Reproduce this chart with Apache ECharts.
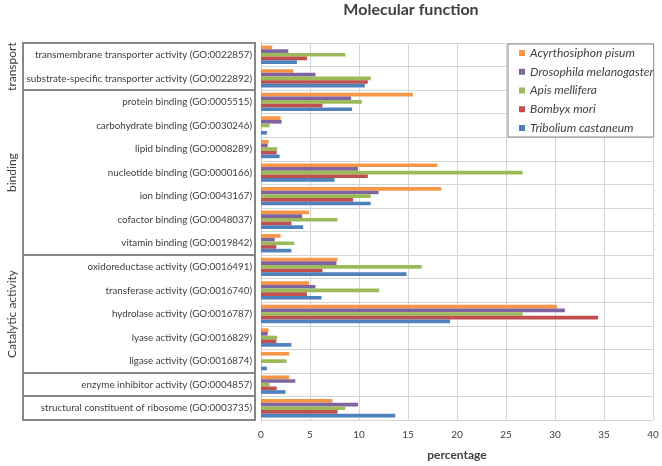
<!DOCTYPE html>
<html><head><meta charset="utf-8">
<script src="https://cdn.jsdelivr.net/npm/echarts@6/dist/echarts.min.js"></script>
<style>html,body{margin:0;padding:0;background:#fff}#c{width:662px;height:466px}</style>
</head><body><div id="c"></div>
<script>
const categories = [
  'transmembrane transporter activity (GO:0022857)',
  'substrate-specific transporter activity (GO:0022892)',
  'protein binding (GO:0005515)',
  'carbohydrate binding (GO:0030246)',
  'lipid binding (GO:0008289)',
  'nucleotide binding (GO:0000166)',
  'ion binding (GO:0043167)',
  'cofactor binding (GO:0048037)',
  'vitamin binding (GO:0019842)',
  'oxidoreductase activity (GO:0016491)',
  'transferase activity (GO:0016740)',
  'hydrolase activity (GO:0016787)',
  'lyase activity (GO:0016829)',
  'ligase activity (GO:0016874)',
  'enzyme inhibitor activity (GO:0004857)',
  'structural constituent of ribosome (GO:0003735)'
];
const groupNames = ['transport', 'binding', 'Catalytic activity', '', ''];
const groupSizes = [2, 7, 5, 1, 1];
const speciesNames = ['Acyrthosiphon pisum', 'Drosophila melanogaster', 'Apis mellifera', 'Bombyx mori', 'Tribolium castaneum'];
const acyrthosiphon = [1.15, 3.3, 15.5, 2.0, 0.78, 18.0, 18.4, 4.9, 2.0, 7.8, 4.9, 30.2, 0.78, 2.88, 2.88, 7.3];
const drosophila    = [2.78, 5.56, 9.2, 2.1, 0.68, 9.9, 12.0, 4.2, 1.4, 7.7, 5.56, 31.0, 0.68, 0, 3.5, 9.9];
const apis          = [8.6, 11.2, 10.3, 0.88, 1.66, 26.7, 11.2, 7.8, 3.4, 16.4, 12.07, 26.7, 1.66, 2.6, 0.88, 8.6];
const bombyx        = [4.7, 10.9, 6.27, 0, 1.6, 10.9, 9.4, 3.1, 1.56, 6.27, 4.68, 34.4, 1.56, 0, 1.6, 7.8];
const tribolium     = [3.66, 10.6, 9.3, 0.6, 1.9, 7.5, 11.2, 4.3, 3.1, 14.85, 6.17, 19.3, 3.1, 0.6, 2.5, 13.7];
const xTicks = [0, 5, 10, 15, 20, 25, 30, 35, 40];

const colors = ['#F79646', '#8064A2', '#9BBB59', '#C0504D', '#4F81BD'];
const seriesData = [acyrthosiphon, drosophila, apis, bombyx, tribolium];
const FONT = 'Lato';
const TXT = '#404040';

const chart = echarts.init(document.getElementById('c'), null, {renderer: 'canvas'});
chart.setOption({
  animation: false,
  title: {
    text: 'Molecular function', left: 411, top: 2, padding: 0, textAlign: 'center',
    textStyle: {fontFamily: FONT, fontSize: 16, fontWeight: 'bold', color: TXT}
  },
  legend: {
    orient: 'vertical', left: 508, top: 44,
    padding: [2, 0, 2, 11], itemGap: 4.75, itemWidth: 6, itemHeight: 6,
    icon: 'rect', backgroundColor: '#fff', borderColor: '#868686', borderWidth: 1,
    data: speciesNames,
    textStyle: {fontFamily: FONT, fontSize: 12, fontStyle: 'italic', color: TXT, lineHeight: 14}
  },
  grid: {left: 261, right: 9, top: 43, bottom: 46},
  xAxis: {
    type: 'value', min: 0, max: 40, interval: 5,
    axisLine: {show: false}, axisTick: {show: false},
    splitLine: {show: true, lineStyle: {color: '#d4d4d4', width: 1}},
    axisLabel: {
      margin: 10, fontFamily: FONT, fontSize: 10, color: TXT,
      formatter: v => xTicks.includes(v) ? String(v) : ''
    },
    name: 'percentage', nameLocation: 'middle', nameGap: 29,
    nameTextStyle: {fontFamily: FONT, fontSize: 12, fontWeight: 'bold', color: TXT}
  },
  yAxis: {
    type: 'category', inverse: true, data: categories,
    axisLine: {show: true, lineStyle: {color: '#c8c8c8'}}, axisTick: {show: false},
    splitLine: {show: true, lineStyle: {color: '#d4d4d4', width: 1}},
    axisLabel: {margin: 9, fontFamily: FONT, fontSize: 9.8, color: TXT}
  },
  series: seriesData.map((d, i) => ({
    name: speciesNames[i], type: 'bar', data: d,
    barGap: '0%', barCategoryGap: '22%',
    itemStyle: {color: colors[i]}
  }))
});

function drawBoxes() {
  const c0 = chart.convertToPixel({yAxisIndex: 0}, 0);
  const c1 = chart.convertToPixel({yAxisIndex: 0}, 1);
  const band = c1 - c0;
  const top0 = c0 - band / 2;
  const els = [];
  let idx = 0;
  groupSizes.forEach((n, g) => {
    const y0 = top0 + idx * band;
    const h = n * band;
    els.push({
      type: 'rect', shape: {x: 23, y: Math.round(y0), width: 232, height: Math.round(y0 + h) - Math.round(y0)},
      style: {fill: 'none', stroke: '#868686', lineWidth: 2}, z: 10
    });
    if (groupNames[g]) {
      els.push({
        type: 'text', x: 12, y: y0 + h / 2, rotation: Math.PI / 2,
        style: {text: groupNames[g], fontFamily: FONT, fontSize: 12, fill: TXT, align: 'center', verticalAlign: 'middle'},
        z: 10
      });
    }
    idx += n;
  });
  chart.setOption({graphic: {elements: els}});
}
drawBoxes();
</script></body></html>
